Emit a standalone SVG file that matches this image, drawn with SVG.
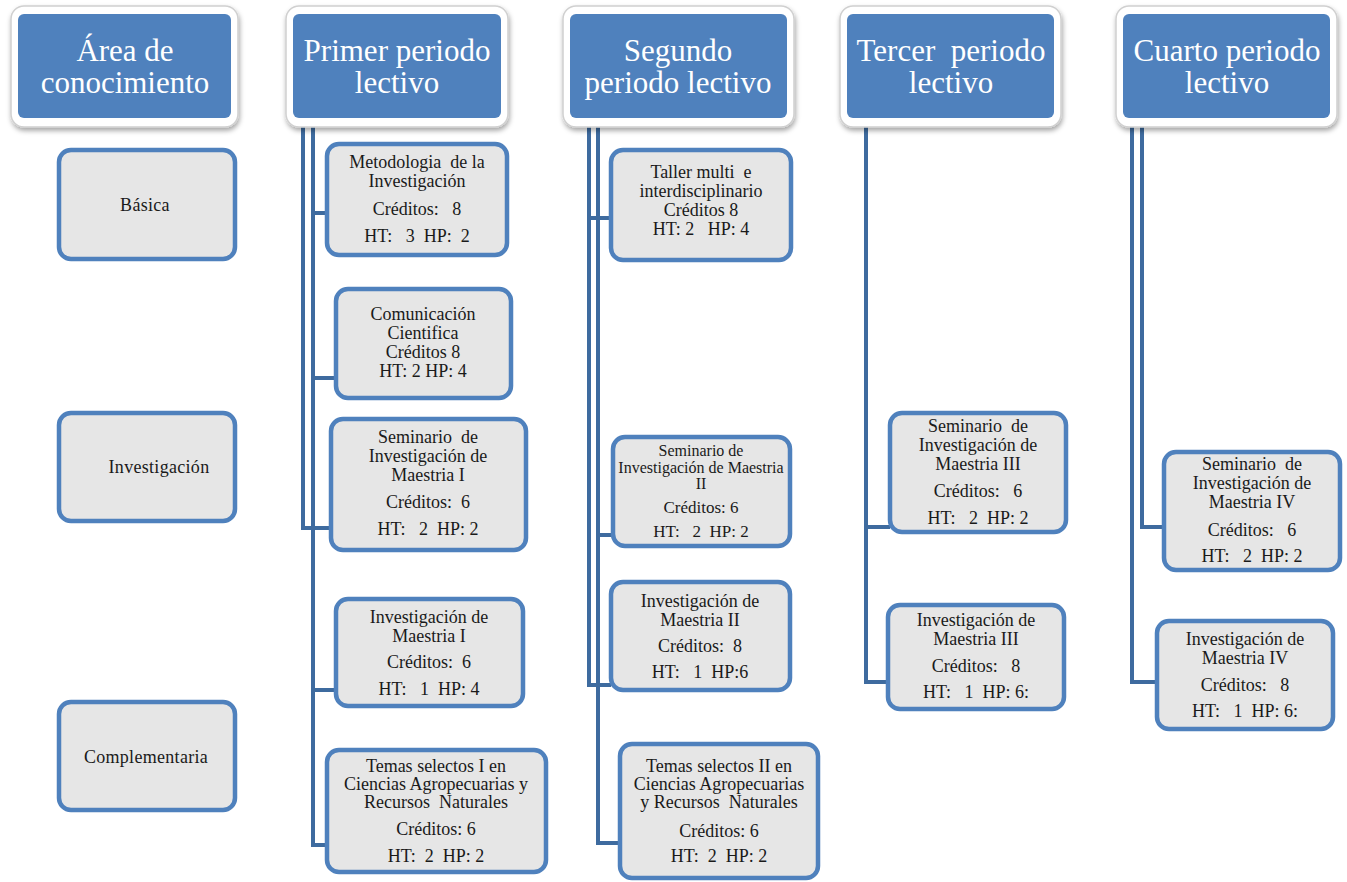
<svg xmlns="http://www.w3.org/2000/svg" width="1347" height="882" viewBox="0 0 1347 882">
<defs>
<filter id="sh" x="-10%" y="-10%" width="125%" height="130%">
<feDropShadow dx="1" dy="3" stdDeviation="2.5" flood-color="#000" flood-opacity="0.35"/>
</filter>
<style>
.frame{fill:#fff;stroke:#d0d0d0;stroke-width:1.5;filter:url(#sh)}
.head{fill:#4f81bd}
.ht{font-family:"Liberation Serif","Times New Roman",serif;font-size:31px;fill:#fff;text-anchor:middle;white-space:pre}
.box{fill:#e6e6e6;stroke:#4f81bd;stroke-width:4.5}
.t{font-family:"Liberation Serif","Times New Roman",serif;font-size:18px;fill:#1a1a1a;text-anchor:middle;white-space:pre}
.s{font-size:16px}
.l{font-size:18px;letter-spacing:0.3px}
.c{fill:none;stroke:#3e6b9f;stroke-width:4;stroke-linejoin:miter}
</style>
</defs>
<rect width="1347" height="882" fill="#fff"/>

<g id="connectors">
<path class="c" d="M313,118 V213 H327"/>
<path class="c" d="M313,118 V378 H336"/>
<path class="c" d="M303,118 V528 H331"/>
<path class="c" d="M313,118 V690 H336"/>
<path class="c" d="M313,118 V845 H327"/>
<path class="c" d="M589,118 V218 H611"/>
<path class="c" d="M598,118 V535 H613"/>
<path class="c" d="M589,118 V685 H611"/>
<path class="c" d="M598,118 V843 H620"/>
<path class="c" d="M866,118 V527 H890"/>
<path class="c" d="M866,118 V682 H888"/>
<path class="c" d="M1142,118 V527 H1164"/>
<path class="c" d="M1132,118 V682 H1157"/>
</g>

<g id="h-area">
<rect class="frame" x="11" y="6" width="227" height="121" rx="13"/>
<rect class="head" x="18" y="14" width="213" height="104" rx="6"/>
<text class="ht" x="125" y="61">Área de</text>
<text class="ht" x="125" y="93">conocimiento</text>
</g>
<g id="h-primer">
<rect class="frame" x="286" y="6" width="222" height="121" rx="13"/>
<rect class="head" x="293" y="14" width="208" height="104" rx="6"/>
<text class="ht" x="397" y="61">Primer periodo</text>
<text class="ht" x="397" y="93">lectivo</text>
</g>
<g id="h-segundo">
<rect class="frame" x="563" y="6" width="231" height="121" rx="13"/>
<rect class="head" x="570" y="14" width="217" height="104" rx="6"/>
<text class="ht" x="678" y="61">Segundo</text>
<text class="ht" x="678" y="93">periodo lectivo</text>
</g>
<g id="h-tercer">
<rect class="frame" x="840" y="6" width="221" height="121" rx="13"/>
<rect class="head" x="847" y="14" width="207" height="104" rx="6"/>
<text class="ht" x="951" y="61">Tercer  periodo</text>
<text class="ht" x="951" y="93">lectivo</text>
</g>
<g id="h-cuarto">
<rect class="frame" x="1116" y="6" width="221" height="121" rx="13"/>
<rect class="head" x="1123" y="14" width="207" height="104" rx="6"/>
<text class="ht" x="1227" y="61">Cuarto periodo</text>
<text class="ht" x="1227" y="93">lectivo</text>
</g>

<g id="a-basica">
<rect class="box" x="59" y="150" width="176" height="109" rx="12"/>
<text class="t l" x="145" y="211">Básica</text>
</g>
<g id="a-investigacion">
<rect class="box" x="59" y="413" width="176" height="108" rx="12"/>
<text class="t l" x="159" y="473">Investigación</text>
</g>
<g id="a-complementaria">
<rect class="box" x="59" y="702" width="176" height="108" rx="12"/>
<text class="t l" x="146" y="763">Complementaria</text>
</g>

<g id="p1-metodologia">
<rect class="box" x="327" y="144" width="180" height="111" rx="12"/>
<text class="t" x="417" y="168">Metodologia  de la</text>
<text class="t" x="417" y="187">Investigación</text>
<text class="t" x="417" y="215">Créditos:   8</text>
<text class="t" x="417" y="242">HT:   3  HP:  2</text>
</g>
<g id="p1-comunicacion">
<rect class="box" x="336" y="289" width="175" height="109" rx="12"/>
<text class="t" x="423" y="320">Comunicación</text>
<text class="t" x="423" y="339">Cientifica</text>
<text class="t" x="423" y="358">Créditos 8</text>
<text class="t" x="423" y="377">HT: 2 HP: 4</text>
</g>
<g id="p1-seminario">
<rect class="box" x="331" y="419" width="195" height="131" rx="12"/>
<text class="t" x="428" y="443">Seminario  de</text>
<text class="t" x="428" y="462">Investigación de</text>
<text class="t" x="428" y="481">Maestria I</text>
<text class="t" x="428" y="508">Créditos:  6</text>
<text class="t" x="428" y="535">HT:   2  HP: 2</text>
</g>
<g id="p1-investigacion">
<rect class="box" x="336" y="599" width="187" height="107" rx="12"/>
<text class="t" x="429" y="623">Investigación de</text>
<text class="t" x="429" y="642">Maestria I</text>
<text class="t" x="429" y="668">Créditos:  6</text>
<text class="t" x="429" y="695">HT:   1  HP: 4</text>
</g>
<g id="p1-temas">
<rect class="box" x="327" y="750" width="219" height="122" rx="12"/>
<text class="t" x="436" y="772">Temas selectos I en</text>
<text class="t" x="436" y="790">Ciencias Agropecuarias y</text>
<text class="t" x="436" y="808">Recursos  Naturales</text>
<text class="t" x="436" y="835">Créditos: 6</text>
<text class="t" x="436" y="862">HT:  2  HP: 2</text>
</g>

<g id="p2-taller">
<rect class="box" x="611" y="150" width="180" height="110" rx="12"/>
<text class="t" x="701" y="178">Taller multi  e</text>
<text class="t" x="701" y="197">interdisciplinario</text>
<text class="t" x="701" y="216">Créditos 8</text>
<text class="t" x="701" y="235">HT: 2   HP: 4</text>
</g>
<g id="p2-seminario">
<rect class="box" x="613" y="437" width="177" height="109" rx="12"/>
<text class="t s" x="701" y="456">Seminario de</text>
<text class="t s" x="701" y="473">Investigación de Maestria</text>
<text class="t s" x="701" y="489">II</text>
<text class="t" x="701" y="513" style="font-size:17px">Créditos: 6</text>
<text class="t" x="701" y="537" style="font-size:17px">HT:   2  HP: 2</text>
</g>
<g id="p2-investigacion">
<rect class="box" x="611" y="582" width="179" height="108" rx="12"/>
<text class="t" x="700" y="607">Investigación de</text>
<text class="t" x="700" y="626">Maestria II</text>
<text class="t" x="700" y="652">Créditos:  8</text>
<text class="t" x="700" y="678">HT:   1  HP:6</text>
</g>
<g id="p2-temas">
<rect class="box" x="620" y="744" width="198" height="134" rx="12"/>
<text class="t" x="719" y="772">Temas selectos II en</text>
<text class="t" x="719" y="790">Ciencias Agropecuarias</text>
<text class="t" x="719" y="808">y Recursos  Naturales</text>
<text class="t" x="719" y="837">Créditos: 6</text>
<text class="t" x="719" y="862">HT:  2  HP: 2</text>
</g>

<g id="p3-seminario">
<rect class="box" x="890" y="413" width="176" height="119" rx="12"/>
<text class="t" x="978" y="432">Seminario  de</text>
<text class="t" x="978" y="451">Investigación de</text>
<text class="t" x="978" y="470">Maestria III</text>
<text class="t" x="978" y="497">Créditos:   6</text>
<text class="t" x="978" y="524">HT:   2  HP: 2</text>
</g>
<g id="p3-investigacion">
<rect class="box" x="888" y="605" width="176" height="104" rx="12"/>
<text class="t" x="976" y="626">Investigación de</text>
<text class="t" x="976" y="645">Maestria III</text>
<text class="t" x="976" y="672">Créditos:   8</text>
<text class="t" x="976" y="698">HT:   1  HP: 6:</text>
</g>

<g id="p4-seminario">
<rect class="box" x="1164" y="452" width="176" height="118" rx="12"/>
<text class="t" x="1252" y="470">Seminario  de</text>
<text class="t" x="1252" y="489">Investigación de</text>
<text class="t" x="1252" y="508">Maestria IV</text>
<text class="t" x="1252" y="536">Créditos:   6</text>
<text class="t" x="1252" y="562">HT:   2  HP: 2</text>
</g>
<g id="p4-investigacion">
<rect class="box" x="1157" y="621" width="176" height="108" rx="12"/>
<text class="t" x="1245" y="645">Investigación de</text>
<text class="t" x="1245" y="664">Maestria IV</text>
<text class="t" x="1245" y="691">Créditos:   8</text>
<text class="t" x="1245" y="717">HT:   1  HP: 6:</text>
</g>
</svg>
